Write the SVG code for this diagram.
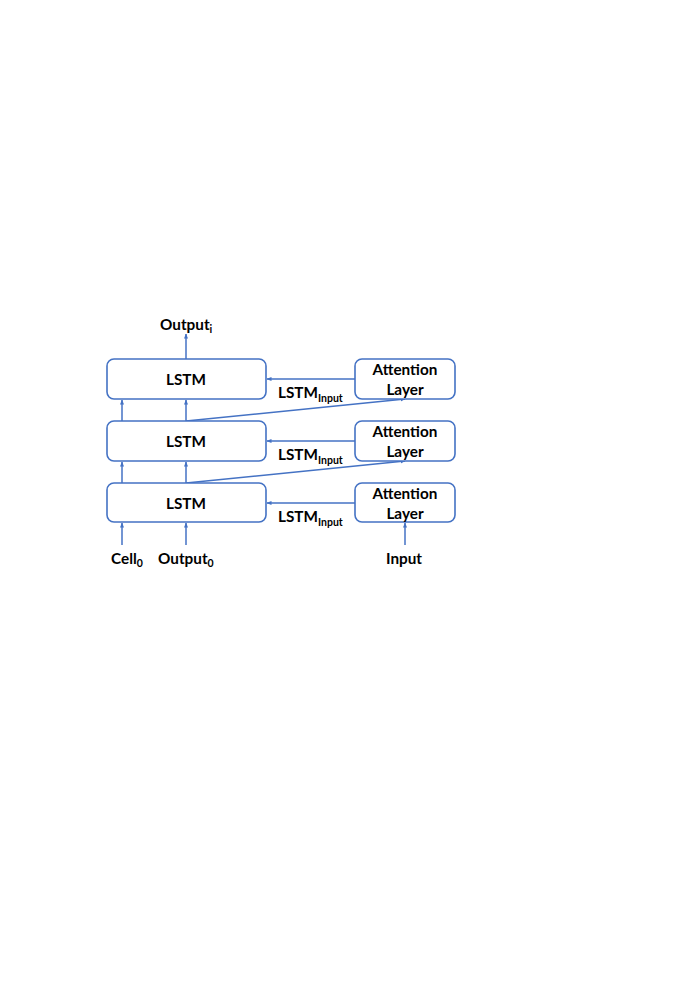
<svg xmlns="http://www.w3.org/2000/svg" width="677" height="994" viewBox="0 0 677 994">
<defs>
<marker id="ah" viewBox="0 0 10 10" refX="9" refY="5" markerWidth="5" markerHeight="5" orient="auto" markerUnits="userSpaceOnUse">
<path d="M0,1 L10,5 L0,9 Z" fill="#4472C4"/>
</marker>
<style>
.box{fill:#fff;stroke:#4472C4;stroke-width:1.6}
.ln{stroke:#4472C4;stroke-width:1.5;fill:none;marker-end:url(#ah)}
text{font-family:Lato,"Open Sans","Liberation Sans",sans-serif;font-weight:bold;font-size:15.3px;fill:#000}
.c{text-anchor:middle}
.sub{font-size:10.5px}
</style>
</defs>
<rect width="677" height="994" fill="#fff"/>
<g id="connectors">
<line class="ln" x1="186" y1="359" x2="186" y2="334"/>
<line class="ln" x1="122" y1="421" x2="122" y2="400"/>
<line class="ln" x1="186" y1="421" x2="186" y2="400"/>
<line class="ln" x1="122" y1="483" x2="122" y2="462"/>
<line class="ln" x1="186" y1="483" x2="186" y2="462"/>
<line class="ln" x1="122" y1="545" x2="122" y2="523"/>
<line class="ln" x1="186" y1="545" x2="186" y2="523"/>
<line class="ln" x1="405" y1="545" x2="405" y2="523"/>
<line class="ln" x1="355" y1="379" x2="267" y2="379"/>
<line class="ln" x1="355" y1="441" x2="267" y2="441"/>
<line class="ln" x1="355" y1="503" x2="267" y2="503"/>
<line class="ln" x1="186" y1="421" x2="405" y2="399"/>
<line class="ln" x1="186" y1="483" x2="405" y2="461"/>
</g>
<g id="lstm3"><rect class="box" x="107" y="359" width="159" height="40" rx="7"/><text class="c" x="186" y="385">LSTM</text></g>
<g id="lstm2"><rect class="box" x="107" y="421" width="159" height="40" rx="7"/><text class="c" x="186" y="447">LSTM</text></g>
<g id="lstm1"><rect class="box" x="107" y="483" width="159" height="39" rx="7"/><text class="c" x="186" y="509">LSTM</text></g>
<g id="att3"><rect class="box" x="355" y="359" width="100" height="40" rx="7"/><text class="c" x="405" y="375">Attention</text><text class="c" x="405" y="395">Layer</text></g>
<g id="att2"><rect class="box" x="355" y="421" width="100" height="40" rx="7"/><text class="c" x="405" y="437">Attention</text><text class="c" x="405" y="457">Layer</text></g>
<g id="att1"><rect class="box" x="355" y="483" width="100" height="39" rx="7"/><text class="c" x="405" y="499">Attention</text><text class="c" x="405" y="519">Layer</text></g>
<g id="labels">
<text x="160" y="330">Output<tspan class="sub" dy="3">i</tspan></text>
<text x="278" y="398">LSTM<tspan class="sub" dy="4">Input</tspan></text>
<text x="278" y="460">LSTM<tspan class="sub" dy="4">Input</tspan></text>
<text x="278" y="522">LSTM<tspan class="sub" dy="4">Input</tspan></text>
<text x="111" y="564">Cell<tspan class="sub" dy="3">0</tspan></text>
<text x="158" y="564">Output<tspan class="sub" dy="3">0</tspan></text>
<text x="386" y="564">Input</text>
</g>
</svg>
